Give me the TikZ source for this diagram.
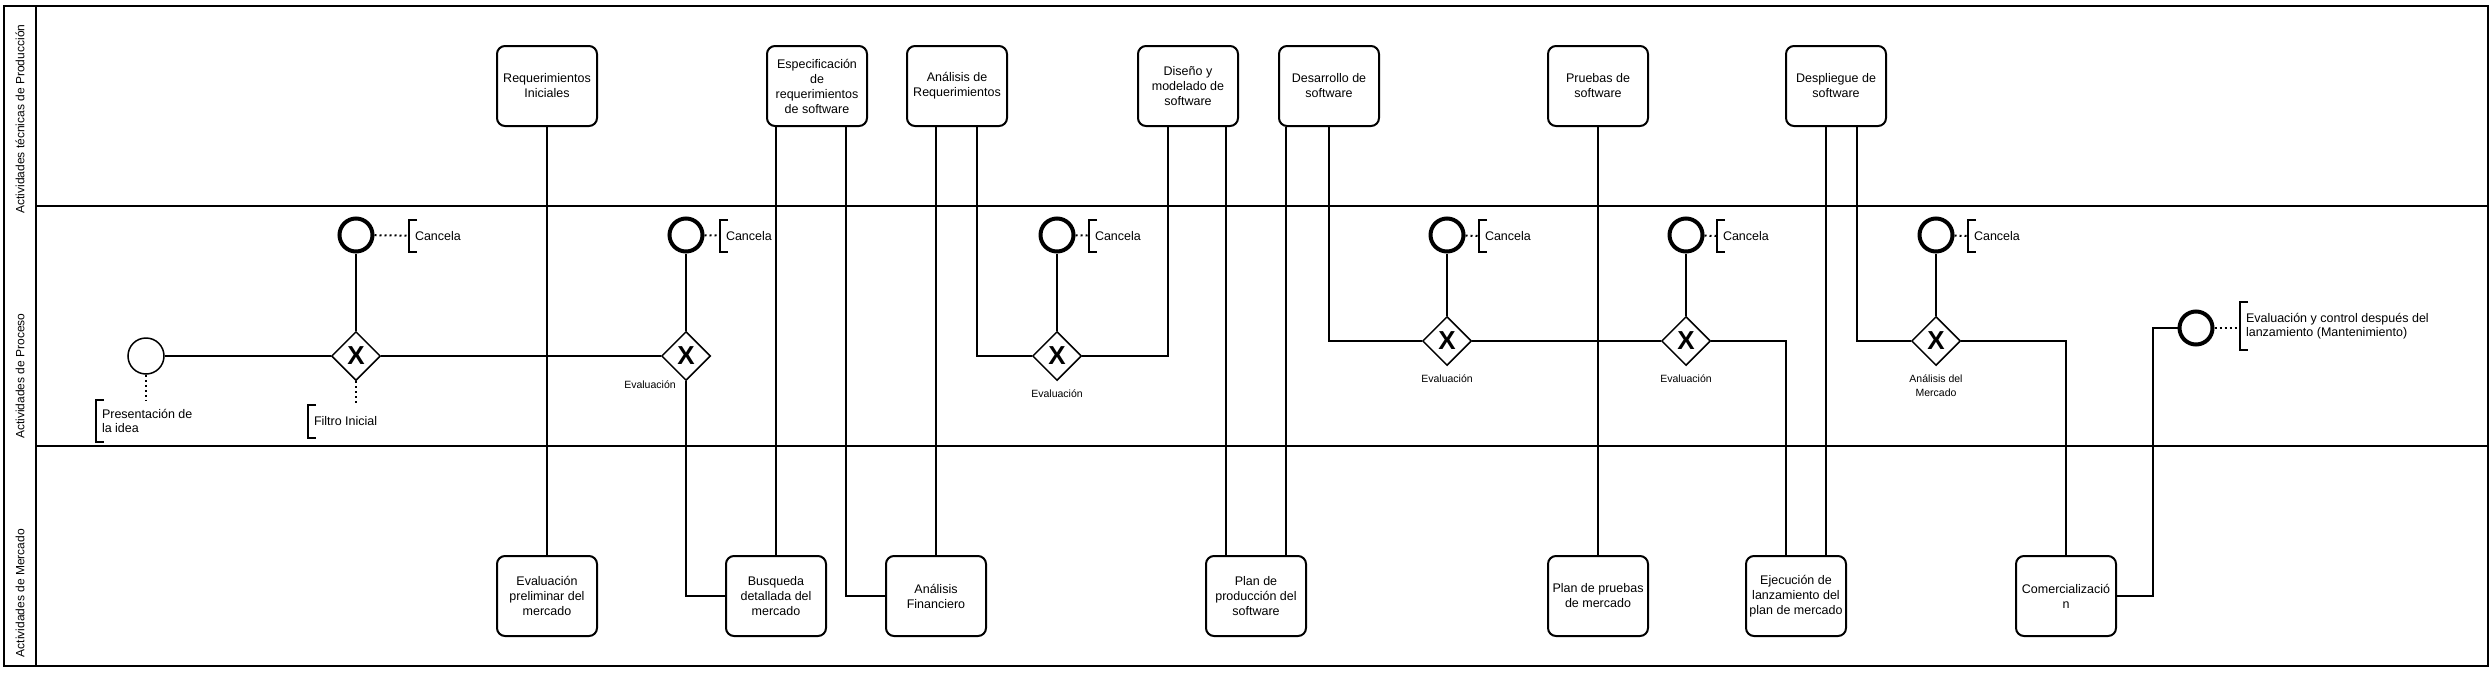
\documentclass[tikz,border=0pt]{standalone}
\usepackage{fontspec}
\setmainfont{Liberation Sans}
\usepackage{tikz}
\usetikzlibrary{shapes.geometric}

\begin{document}
\begin{tikzpicture}[x=1pt, y=-1pt, line width=2pt,
				lane/.style={line width=2pt},
				lanelabel/.style={rotate=90, inner sep=0pt, font=\fontsize{12}{14}\selectfont},
				activity/.style={rectangle, rounded corners=8pt, draw, line width=2pt, minimum width=100pt, minimum height=80pt, inner sep=2pt, align=center, font=\fontsize{12.5}{15}\selectfont},
				gateway/.style={diamond, draw, fill=white, line width=1.5pt, minimum size=49pt, inner sep=0pt, font=\fontsize{26}{26}\selectfont\bfseries},
				startevent/.style={circle, draw, fill=white, line width=1.5pt, minimum size=36pt, inner sep=0pt},
				endevent/.style={circle, draw, fill=white, line width=4pt, minimum size=33pt, inner sep=0pt},
				annot/.style={anchor=west, align=left, inner xsep=5pt, inner ysep=0pt, minimum height=30pt, font=\fontsize{12.5}{14.5}\selectfont},
				gatelabel/.style={align=center, inner sep=0pt, font=\fontsize{10.5}{14}\selectfont},
				bracket/.style={line width=2pt},
				assoc/.style={line width=2pt, dash pattern=on 2pt off 3pt}]
				\useasboundingbox (0,0) rectangle (2492,672);
				% pool and lanes
				\draw[lane] (4,6) rectangle (2488,666);
				\draw[lane] (36,6) -- (36,666);
				\draw[lane] (36,206) -- (2488,206);
				\draw[lane] (36,446) -- (2488,446);
				\node[lanelabel] (lprod) at (20,119) {Actividades técnicas de Producción};
				\node[lanelabel] (lproc) at (20,376) {Actividades de Proceso};
				\node[lanelabel] (lmerc) at (20,593) {Actividades de Mercado};
				% production activities
				\node[activity] (reqini) at (547,86) {Requerimientos\\Iniciales};
				\node[activity] (espec) at (817,86) {Especificación\\de\\requerimientos\\de software};
				\node[activity] (analreq) at (957,86) {Análisis de\\Requerimientos};
				\node[activity] (diseno) at (1188,86) {Diseño y\\modelado de\\software};
				\node[activity] (desarrollo) at (1329,86) {Desarrollo de\\software};
				\node[activity] (pruebas) at (1598,86) {Pruebas de\\software};
				\node[activity] (despliegue) at (1836,86) {Despliegue de\\software};
				% market activities
				\node[activity] (evalprelim) at (547,596) {Evaluación\\preliminar del\\mercado};
				\node[activity] (busqueda) at (776,596) {Busqueda\\detallada del\\mercado};
				\node[activity] (analfin) at (936,596) {Análisis\\Financiero};
				\node[activity] (planprod) at (1256,596) {Plan de\\producción del\\software};
				\node[activity] (planpruebas) at (1598,596) {Plan de pruebas\\de mercado};
				\node[activity] (ejecucion) at (1796,596) {Ejecución de\\lanzamiento del\\plan de mercado};
				\node[activity] (comercial) at (2066,596) {Comercializació\\n};
				% process events and gateways
				\node[startevent] (inicio) at (146,356) {};
				\node[gateway] (g1) at (356,356) {X};
				\node[gateway] (g2) at (686,356) {X};
				\node[gateway] (g3) at (1057,356) {X};
				\node[gateway] (g4) at (1447,341) {X};
				\node[gateway] (g5) at (1686,341) {X};
				\node[gateway] (g6) at (1936,341) {X};
				\node[endevent] (e1) at (356,235) {};
				\node[endevent] (e2) at (686,235) {};
				\node[endevent] (e3) at (1057,235) {};
				\node[endevent] (e4) at (1447,235) {};
				\node[endevent] (e5) at (1686,235) {};
				\node[endevent] (e6) at (1936,235) {};
				\node[endevent] (efin) at (2196,328) {};
				% gateway labels
				\node[gatelabel] (lg2) at (650,385) {Evaluación};
				\node[gatelabel] (lg3) at (1057,394) {Evaluación};
				\node[gatelabel] (lg4) at (1447,379) {Evaluación};
				\node[gatelabel] (lg5) at (1686,379) {Evaluación};
				\node[gatelabel] (lg6) at (1936,386) {Análisis del\\Mercado};
				% annotations
				\node[annot] (c1) at (409,236) {Cancela};
				\node[annot] (c2) at (720,236) {Cancela};
				\node[annot] (c3) at (1089,236) {Cancela};
				\node[annot] (c4) at (1479,236) {Cancela};
				\node[annot] (c5) at (1717,236) {Cancela};
				\node[annot] (c6) at (1968,236) {Cancela};
				\node[annot, minimum height=31pt] (filtro) at (308,421) {Filtro Inicial};
				\node[annot, minimum height=40pt] (idea) at (96,421) {Presentación de\\la idea};
				\node[annot, minimum height=46pt] (mant) at (2240,326) {Evaluación y control después del\\lanzamiento (Mantenimiento)};
				% annotation brackets
				\draw[bracket] ([xshift=8pt]c1.north west) -- (c1.north west) -- (c1.south west) -- ([xshift=8pt]c1.south west);
				\draw[bracket] ([xshift=8pt]c2.north west) -- (c2.north west) -- (c2.south west) -- ([xshift=8pt]c2.south west);
				\draw[bracket] ([xshift=8pt]c3.north west) -- (c3.north west) -- (c3.south west) -- ([xshift=8pt]c3.south west);
				\draw[bracket] ([xshift=8pt]c4.north west) -- (c4.north west) -- (c4.south west) -- ([xshift=8pt]c4.south west);
				\draw[bracket] ([xshift=8pt]c5.north west) -- (c5.north west) -- (c5.south west) -- ([xshift=8pt]c5.south west);
				\draw[bracket] ([xshift=8pt]c6.north west) -- (c6.north west) -- (c6.south west) -- ([xshift=8pt]c6.south west);
				\draw[bracket] ([xshift=8pt]filtro.north west) -- (filtro.north west) -- (filtro.south west) -- ([xshift=8pt]filtro.south west);
				\draw[bracket] ([xshift=8pt]idea.north west) -- (idea.north west) -- (idea.south west) -- ([xshift=8pt]idea.south west);
				\draw[bracket] ([xshift=8pt]mant.north west) -- (mant.north west) -- (mant.south west) -- ([xshift=8pt]mant.south west);
				% associations
				\draw[assoc] (e1) -- (c1);
				\draw[assoc] (e2) -- (c2);
				\draw[assoc] (e3) -- (c3);
				\draw[assoc] (e4) -- (c4.west);
				\draw[assoc] (e5) -- (c5.west);
				\draw[assoc] (e6) -- (c6.west);
				\draw[assoc] (g1) -- (g1 |- filtro.north);
				\draw[assoc] (inicio) -- (inicio |- idea.north);
				\draw[assoc] (efin) -- (efin -| mant.west);
				% process flow
				\draw (inicio) -- (g1);
				\draw (g1) -- (g2);
				\draw (g1) -- (e1);
				\draw (g2) -- (e2);
				\draw (g3) -- (e3);
				\draw (g4) -- (e4);
				\draw (g5) -- (e5);
				\draw (g6) -- (e6);
				\draw (g4) -- (g5);
				% flows between lanes
				\draw (reqini) -- (evalprelim);
				\draw (g2) |- (busqueda);
				\draw (espec.south -| busqueda) -- (busqueda);
				\draw ([xshift=29pt]espec.south) |- (analfin);
				\draw (analreq.south -| analfin) -- (analfin);
				\draw ([xshift=20pt]analreq.south) |- (g3);
				\draw (g3) -| ([xshift=-20pt]diseno.south);
				\draw ([xshift=-30pt]planprod.north) -- ([xshift=-30pt]planprod.north |- diseno.south);
				\draw ([xshift=30pt]planprod.north) -- ([xshift=30pt]planprod.north |- desarrollo.south);
				\draw (desarrollo) |- (g4);
				\draw (pruebas) -- (planpruebas);
				\draw (g5) -| ([xshift=-10pt]ejecucion.north);
				\draw ([xshift=30pt]ejecucion.north) -- ([xshift=30pt]ejecucion.north |- despliegue.south);
				\draw ([xshift=21pt]despliegue.south) |- (g6);
				\draw (g6) -| (comercial);
				\draw (comercial.east) -- ++(36,0) |- (efin);
\end{tikzpicture}
\end{document}
